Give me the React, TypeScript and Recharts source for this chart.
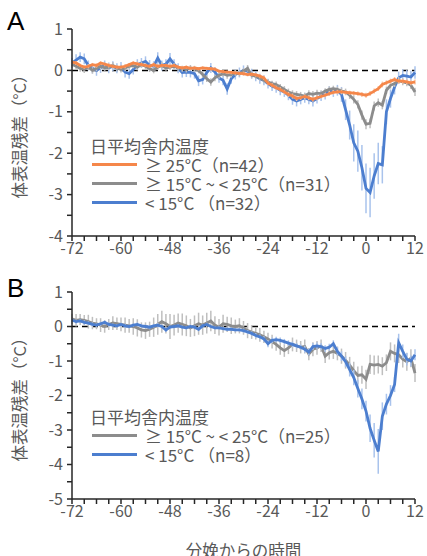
import { ErrorBar, Line, LineChart, ReferenceLine, XAxis, YAxis } from "recharts";

// hours relative to calving
const HOURS = [
  -72, -71, -70, -69, -68, -67, -66, -65, -64, -63, -62, -61,
  -60, -59, -58, -57, -56, -55, -54, -53, -52, -51, -50, -49,
  -48, -47, -46, -45, -44, -43, -42, -41, -40, -39, -38, -37,
  -36, -35, -34, -33, -32, -31, -30, -29, -28, -27, -26, -25,
  -24, -23, -22, -21, -20, -19, -18, -17, -16, -15, -14, -13,
  -12, -11, -10, -9, -8, -7, -6, -5, -4, -3, -2, -1,
  0, 1, 2, 3, 4, 5, 6, 7, 8, 9, 10, 11, 12,
];

// panel A, ≥ 25°C
const A_WARM = [
  0.2, 0.18, 0.12, 0.08, 0.1, 0.14, 0.12, 0.18, 0.15, 0.12, 0.1, 0.08,
  0.08, 0.1, 0.14, 0.18, 0.16, 0.14, 0.12, 0.1, 0.14, 0.1, 0.12, 0.12,
  0.1, 0.12, 0.08, 0.06, 0.08, 0.05, 0.06, 0.04, 0.06, 0.05, 0.04, 0.03,
  -0.02, -0.03, -0.04, -0.05, -0.06, -0.07, -0.08, -0.1, -0.09, -0.11, -0.14, -0.18,
  -0.31, -0.36, -0.42, -0.46, -0.52, -0.58, -0.62, -0.68, -0.66, -0.63, -0.66, -0.7,
  -0.66, -0.63, -0.6, -0.56, -0.53, -0.52, -0.52, -0.53, -0.54, -0.55, -0.56, -0.58,
  -0.6, -0.56, -0.5, -0.44, -0.34, -0.3, -0.26, -0.22, -0.26, -0.26, -0.28, -0.3, -0.28,
];
const A_WARM_ERR = [
  0.05, 0.05, 0.04, 0.04, 0.05, 0.04, 0.05, 0.04, 0.04, 0.05, 0.04, 0.04,
  0.04, 0.05, 0.04, 0.04, 0.05, 0.04, 0.04, 0.04, 0.05, 0.04, 0.04, 0.04,
  0.04, 0.04, 0.04, 0.04, 0.04, 0.04, 0.04, 0.04, 0.04, 0.04, 0.04, 0.04,
  0.04, 0.04, 0.04, 0.04, 0.04, 0.04, 0.05, 0.04, 0.04, 0.04, 0.05, 0.05,
  0.05, 0.05, 0.05, 0.05, 0.05, 0.06, 0.06, 0.06, 0.05, 0.05, 0.06, 0.06,
  0.06, 0.05, 0.05, 0.05, 0.05, 0.05, 0.05, 0.05, 0.05, 0.05, 0.05, 0.06,
  0.06, 0.06, 0.06, 0.06, 0.07, 0.06, 0.06, 0.06, 0.06, 0.06, 0.06, 0.06, 0.06,
];

// panel A, ≥ 15°C ~ < 25°C
const A_MID = [
  0.15, 0.1, 0.05, 0.02, 0.08, 0.0, 0.05, 0.1, 0.06, 0.08, 0.12, 0.06,
  0.02, 0.06, 0.1, 0.12, 0.08, 0.14, 0.1, 0.04, 0.0, 0.08, 0.12, 0.06,
  0.08, 0.1, 0.06, 0.04, 0.02, 0.06, 0.04, 0.0, -0.1, -0.2, -0.28, -0.18,
  -0.12, -0.08, -0.12, -0.1, -0.06, -0.08, -0.02, 0.05, -0.12, -0.14, -0.18, -0.24,
  -0.28, -0.32, -0.34, -0.4, -0.46, -0.52, -0.56, -0.58, -0.6, -0.62, -0.56, -0.58,
  -0.55, -0.56, -0.5, -0.46, -0.44, -0.46, -0.5, -0.52, -0.6, -0.7, -0.82, -1.08,
  -1.3, -1.28, -0.86, -0.78, -0.84, -0.48, -0.36, -0.32, -0.24, -0.28, -0.3, -0.36, -0.52,
];
const A_MID_ERR = [
  0.08, 0.07, 0.08, 0.08, 0.07, 0.08, 0.07, 0.08, 0.07, 0.07, 0.08, 0.07,
  0.07, 0.08, 0.07, 0.07, 0.08, 0.07, 0.07, 0.08, 0.07, 0.07, 0.08, 0.07,
  0.07, 0.07, 0.07, 0.07, 0.07, 0.07, 0.07, 0.07, 0.08, 0.08, 0.09, 0.08,
  0.08, 0.07, 0.08, 0.07, 0.07, 0.07, 0.07, 0.08, 0.07, 0.07, 0.07, 0.07,
  0.07, 0.07, 0.07, 0.07, 0.08, 0.08, 0.08, 0.08, 0.08, 0.08, 0.08, 0.08,
  0.08, 0.08, 0.07, 0.07, 0.07, 0.07, 0.08, 0.08, 0.09, 0.1, 0.1, 0.11,
  0.12, 0.12, 0.11, 0.1, 0.1, 0.09, 0.08, 0.08, 0.08, 0.08, 0.08, 0.09, 0.1,
];

// panel A, < 15°C
const A_COLD = [
  0.18, 0.25, 0.32, 0.28, 0.12, 0.05, 0.0, 0.06, 0.12, 0.06, 0.1, 0.05,
  0.08, -0.04, -0.08, 0.02, 0.14, 0.18, 0.22, 0.12, 0.1, 0.3, 0.12, 0.15,
  0.28, 0.15, 0.05, -0.05, -0.04, -0.05, -0.08, -0.25, -0.22, -0.05, 0.06, -0.04,
  -0.18, -0.24, -0.45, -0.2, -0.1, -0.05, 0.0, -0.02, -0.08, -0.14, -0.2, -0.24,
  -0.32, -0.38, -0.42, -0.48, -0.52, -0.6, -0.7, -0.74, -0.7, -0.66, -0.7, -0.74,
  -0.68, -0.62, -0.58, -0.5, -0.52, -0.48, -0.58, -0.95, -1.32, -1.75, -1.95, -2.35,
  -2.85, -2.95, -2.55, -2.25, -2.28, -1.0, -0.68, -0.4, -0.18, -0.12, -0.14, -0.16, -0.05,
];
const A_COLD_ERR = [
  0.12, 0.14, 0.12, 0.13, 0.12, 0.12, 0.13, 0.12, 0.12, 0.13, 0.12, 0.12,
  0.12, 0.13, 0.12, 0.12, 0.13, 0.12, 0.12, 0.13, 0.12, 0.14, 0.12, 0.12,
  0.14, 0.12, 0.12, 0.12, 0.12, 0.12, 0.12, 0.13, 0.12, 0.12, 0.12, 0.12,
  0.12, 0.12, 0.14, 0.12, 0.12, 0.12, 0.12, 0.12, 0.12, 0.12, 0.12, 0.12,
  0.12, 0.12, 0.12, 0.12, 0.12, 0.12, 0.13, 0.13, 0.12, 0.12, 0.12, 0.13,
  0.12, 0.12, 0.12, 0.12, 0.12, 0.13, 0.18, 0.25, 0.35, 0.45, 0.5, 0.55,
  0.6, 0.6, 0.55, 0.5, 0.45, 0.3, 0.22, 0.18, 0.15, 0.15, 0.15, 0.15, 0.15,
];

// panel B, ≥ 15°C ~ < 25°C
const B_MID = [
  0.22, 0.18, 0.2, 0.18, 0.14, 0.1, 0.08, 0.04, 0.0, 0.06, 0.1, 0.08,
  0.06, 0.04, 0.02, 0.0, -0.04, -0.1, -0.12, -0.08, -0.02, 0.06, 0.14, 0.08,
  0.0, 0.04, 0.1, 0.06, 0.02, -0.04, 0.02, 0.08, 0.04, 0.1, 0.16, 0.04,
  -0.02, 0.08, 0.06, 0.02, 0.0, 0.02, -0.04, -0.12, -0.16, -0.2, -0.24, -0.3,
  -0.36, -0.44, -0.52, -0.62, -0.7, -0.62, -0.52, -0.56, -0.6, -0.58, -0.8, -0.66,
  -0.62, -0.56, -0.86, -0.76, -0.72, -0.78, -0.86, -0.98, -1.12, -1.28, -1.42, -1.4,
  -1.53, -1.1, -1.12, -1.1, -1.15, -1.05, -0.72, -0.78, -0.82, -0.95, -1.02, -0.92, -1.35,
];
const B_MID_ERR = [
  0.15, 0.18, 0.16, 0.15, 0.2, 0.18, 0.16, 0.2, 0.18, 0.16, 0.2, 0.18,
  0.2, 0.22, 0.2, 0.24, 0.25, 0.22, 0.24, 0.22, 0.28, 0.3, 0.32, 0.28,
  0.36, 0.3, 0.28, 0.32, 0.3, 0.26, 0.3, 0.32, 0.28, 0.3, 0.3, 0.26,
  0.24, 0.26, 0.22, 0.24, 0.2, 0.22, 0.2, 0.22, 0.2, 0.18, 0.2, 0.18,
  0.18, 0.2, 0.18, 0.2, 0.18, 0.18, 0.2, 0.18, 0.18, 0.2, 0.18, 0.2,
  0.2, 0.18, 0.2, 0.2, 0.22, 0.2, 0.22, 0.24, 0.24, 0.26, 0.26, 0.26,
  0.28, 0.28, 0.28, 0.26, 0.26, 0.24, 0.26, 0.26, 0.24, 0.24, 0.26, 0.26, 0.26,
];

// panel B, < 15°C
const B_COLD = [
  0.18, 0.14, 0.16, 0.12, 0.1, 0.06, 0.04, 0.08, 0.12, 0.06, 0.04, 0.02,
  0.06, 0.02, 0.0, 0.04, 0.06, 0.02, 0.0, -0.02, 0.02, 0.04, 0.0, -0.1,
  -0.02, 0.0, 0.02, -0.02, -0.04, 0.0, -0.02, -0.08, 0.02, 0.06, 0.0, -0.04,
  -0.04, -0.06, -0.08, -0.08, -0.1, -0.1, -0.12, -0.16, -0.2, -0.26, -0.3, -0.36,
  -0.5, -0.4, -0.38, -0.4, -0.44, -0.48, -0.52, -0.56, -0.6, -0.66, -0.74, -0.58,
  -0.56, -0.58, -0.64, -0.6, -0.5, -0.72, -0.86, -1.02, -1.25, -1.48, -1.8, -2.1,
  -2.45, -2.95, -3.3, -3.62, -2.6, -2.25, -2.0, -1.68, -0.47, -0.72, -0.95, -1.0, -0.82,
];
const B_COLD_ERR = [
  0.06, 0.06, 0.05, 0.06, 0.05, 0.06, 0.05, 0.06, 0.05, 0.06, 0.05, 0.05,
  0.05, 0.06, 0.05, 0.05, 0.06, 0.05, 0.05, 0.06, 0.05, 0.06, 0.05, 0.06,
  0.05, 0.05, 0.05, 0.05, 0.05, 0.05, 0.05, 0.06, 0.05, 0.05, 0.05, 0.05,
  0.05, 0.05, 0.05, 0.05, 0.05, 0.05, 0.06, 0.06, 0.06, 0.07, 0.07, 0.08,
  0.1, 0.08, 0.08, 0.08, 0.08, 0.08, 0.08, 0.08, 0.08, 0.1, 0.1, 0.1,
  0.1, 0.1, 0.1, 0.1, 0.1, 0.12, 0.14, 0.16, 0.2, 0.22, 0.26, 0.3,
  0.3, 0.4, 0.5, 0.65, 0.4, 0.3, 0.3, 0.22, 0.26, 0.2, 0.18, 0.16, 0.16,
];

const X_TICKS = [
  -72, -69, -66, -63, -60, -57, -54, -51, -48, -45, -42, -39, -36, -33, -30,
  -27, -24, -21, -18, -15, -12, -9, -6, -3, 0, 3, 6, 9, 12,
];
const X_LABELS = [-72, -60, -48, -36, -24, -12, 0, 12];
const A_Y_TICKS = [-4, -3.5, -3, -2.5, -2, -1.5, -1, -0.5, 0, 0.5, 1];
const B_Y_TICKS = [-5, -4.5, -4, -3.5, -3, -2.5, -2, -1.5, -1, -0.5, 0, 0.5, 1];

const LEGEND_TITLE = "日平均舎内温度";
const A_LEGEND = ["≥ 25°C（n=42）", "≥ 15°C ~ < 25°C（n=31）", "< 15°C （n=32）"];
const B_LEGEND = ["≥ 15°C ~ < 25°C（n=25）", "< 15°C （n=8）"];

const ORANGE = "#F5874A";
const GRAY = "#8C8C8C";
const BLUE = "#4C7ECF";
const ORANGE_ERR = "#F9C3A3";
const GRAY_ERR = "#BFBFBF";
const BLUE_ERR = "#A9C3EC";

const FONT = "'Noto Sans CJK JP', 'Noto Sans', sans-serif";
const TEXT = "#595959";
const AXIS = "#262626";
const LINE_W = 2.8;

const dataA = HOURS.map((h, i) => ({
  h,
  warm: A_WARM[i],
  warmErr: A_WARM_ERR[i],
  mid: A_MID[i],
  midErr: A_MID_ERR[i],
  cold: A_COLD[i],
  coldErr: A_COLD_ERR[i],
}));

const dataB = HOURS.map((h, i) => ({
  h,
  mid: B_MID[i],
  midErr: B_MID_ERR[i],
  cold: B_COLD[i],
  coldErr: B_COLD_ERR[i],
}));

const tickStyle = { fill: TEXT, fontSize: 16, fontFamily: FONT };
const yLabel = {
  value: "体表温残差（°C）",
  angle: -90,
  position: "insideLeft" as const,
  offset: 20,
  style: { textAnchor: "middle", fill: TEXT, fontSize: 16.5, fontFamily: FONT },
};

function xFmt(v: number) {
  return X_LABELS.includes(v) ? String(v) : "";
}

function yFmt(v: number) {
  return Number.isInteger(v) ? String(v) : "";
}

function Legend({ top, items }: { top: number; items: { label: string; color: string }[] }) {
  return (
    <div
      style={{
        position: "absolute",
        left: 90,
        top,
        fontFamily: FONT,
        fontSize: 17,
        color: TEXT,
        lineHeight: "19px",
        whiteSpace: "nowrap",
      }}
    >
      <div>{LEGEND_TITLE}</div>
      {items.map((it) => (
        <div key={it.label} style={{ display: "flex", alignItems: "center", height: 19 }}>
          <span
            style={{ display: "inline-block", width: 45, height: 3, background: it.color, marginLeft: 2, marginRight: 8 }}
          />
          <span>{it.label}</span>
        </div>
      ))}
    </div>
  );
}

const letter = {
  position: "absolute" as const,
  left: 7,
  fontFamily: "'Liberation Sans', Arial, sans-serif",
  fontSize: 26,
  lineHeight: "26px",
  color: "#000",
};

export default function App() {
  return (
    <div style={{ position: "absolute", left: 0, top: 0, width: 427, height: 556, background: "#fff", overflow: "hidden" }}>
      <div style={{ position: "absolute", left: 0, top: 0 }}>
        <LineChart width={427} height={270} data={dataA} margin={{ top: 29, right: 12, bottom: 0, left: 0 }}>
          <XAxis
            type="number"
            dataKey="h"
            domain={[-72, 12]}
            ticks={X_TICKS}
            interval={0}
            tickFormatter={xFmt}
            height={34}
            tickSize={5}
            tickMargin={2}
            tick={tickStyle}
            axisLine={{ stroke: AXIS, strokeWidth: 1.5 }}
            tickLine={{ stroke: AXIS, strokeWidth: 1.5 }}
          />
          <YAxis
            type="number"
            domain={[-4, 1]}
            ticks={A_Y_TICKS}
            interval={0}
            tickFormatter={yFmt}
            width={72}
            tickSize={5}
            tickMargin={4}
            tick={tickStyle}
            axisLine={{ stroke: AXIS, strokeWidth: 1.5 }}
            tickLine={{ stroke: AXIS, strokeWidth: 1.5 }}
            label={yLabel}
          />
          <ReferenceLine y={0} stroke="#000" strokeDasharray="6 4" strokeWidth={1.5} />
          <Line dataKey="cold" stroke={BLUE} strokeWidth={LINE_W} dot={false} isAnimationActive={false}>
            <ErrorBar dataKey="coldErr" width={0} stroke={BLUE_ERR} strokeWidth={1.5} direction="y" isAnimationActive={false} />
          </Line>
          <Line dataKey="mid" stroke={GRAY} strokeWidth={LINE_W} dot={false} isAnimationActive={false}>
            <ErrorBar dataKey="midErr" width={0} stroke={GRAY_ERR} strokeWidth={1.5} direction="y" isAnimationActive={false} />
          </Line>
          <Line dataKey="warm" stroke={ORANGE} strokeWidth={LINE_W} dot={false} isAnimationActive={false}>
            <ErrorBar dataKey="warmErr" width={0} stroke={ORANGE_ERR} strokeWidth={1.5} direction="y" isAnimationActive={false} />
          </Line>
        </LineChart>
      </div>
      <div style={{ position: "absolute", left: 0, top: 270 }}>
        <LineChart width={427} height={286} data={dataB} margin={{ top: 22, right: 12, bottom: 0, left: 0 }}>
          <XAxis
            type="number"
            dataKey="h"
            domain={[-72, 12]}
            ticks={X_TICKS}
            interval={0}
            tickFormatter={xFmt}
            height={57}
            tickSize={5}
            tickMargin={2}
            tick={tickStyle}
            axisLine={{ stroke: AXIS, strokeWidth: 1.5 }}
            tickLine={{ stroke: AXIS, strokeWidth: 1.5 }}
            label={{
              value: "分娩からの時間",
              position: "insideBottom",
              offset: -1,
              style: { fill: TEXT, fontSize: 16.5, fontFamily: FONT },
            }}
          />
          <YAxis
            type="number"
            domain={[-5, 1]}
            ticks={B_Y_TICKS}
            interval={0}
            tickFormatter={yFmt}
            width={72}
            tickSize={5}
            tickMargin={4}
            tick={tickStyle}
            axisLine={{ stroke: AXIS, strokeWidth: 1.5 }}
            tickLine={{ stroke: AXIS, strokeWidth: 1.5 }}
            label={yLabel}
          />
          <ReferenceLine y={0} stroke="#000" strokeDasharray="6 4" strokeWidth={1.5} />
          <Line dataKey="mid" stroke={GRAY} strokeWidth={LINE_W} dot={false} isAnimationActive={false}>
            <ErrorBar dataKey="midErr" width={0} stroke={GRAY_ERR} strokeWidth={1.5} direction="y" isAnimationActive={false} />
          </Line>
          <Line dataKey="cold" stroke={BLUE} strokeWidth={LINE_W} dot={false} isAnimationActive={false}>
            <ErrorBar dataKey="coldErr" width={0} stroke={BLUE_ERR} strokeWidth={1.5} direction="y" isAnimationActive={false} />
          </Line>
        </LineChart>
      </div>
      <Legend
        top={136}
        items={[
          { label: A_LEGEND[0], color: ORANGE },
          { label: A_LEGEND[1], color: GRAY },
          { label: A_LEGEND[2], color: BLUE },
        ]}
      />
      <Legend
        top={407}
        items={[
          { label: B_LEGEND[0], color: GRAY },
          { label: B_LEGEND[1], color: BLUE },
        ]}
      />
      <div style={{ ...letter, top: 8 }}>A</div>
      <div style={{ ...letter, top: 275 }}>B</div>
    </div>
  );
}
